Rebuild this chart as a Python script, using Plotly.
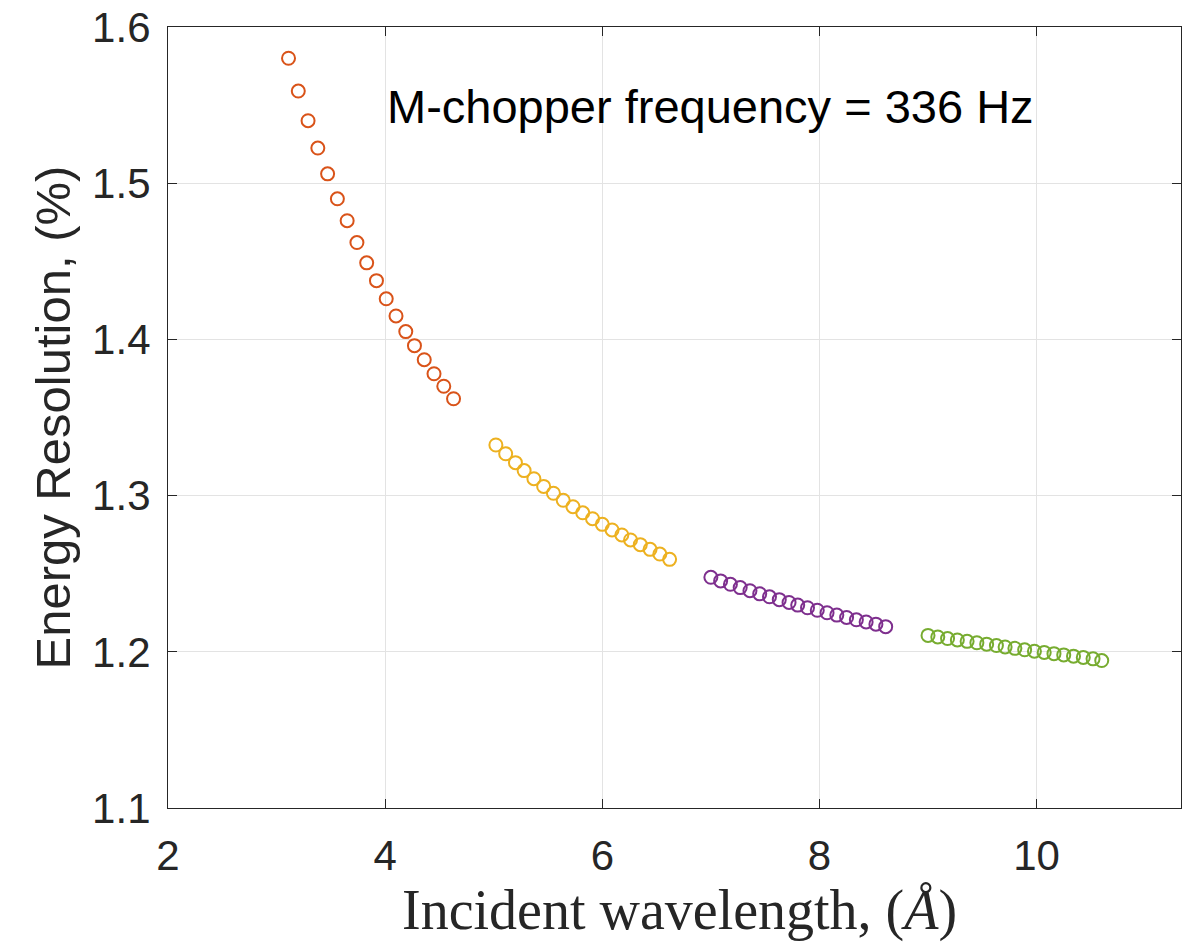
import plotly.graph_objects as go

# Incident wavelength (Å) and energy resolution (%) for four chopper settings
wl_1 = [3.11, 3.20, 3.29, 3.38, 3.47, 3.56, 3.65, 3.74, 3.83, 3.92, 4.01, 4.10, 4.19, 4.27, 4.36, 4.45, 4.54, 4.63]
res_1 = [1.580, 1.559, 1.540, 1.5225, 1.506, 1.490, 1.476, 1.462, 1.449, 1.4376, 1.426, 1.415, 1.405, 1.396, 1.387, 1.378, 1.370, 1.362]

wl_2 = [5.02, 5.11, 5.20, 5.28, 5.37, 5.46, 5.55, 5.64, 5.73, 5.82, 5.91, 6.00, 6.09, 6.18, 6.26, 6.35, 6.44, 6.53, 6.62]
res_2 = [1.3324, 1.3268, 1.3211, 1.3160, 1.3108, 1.3059, 1.3015, 1.2970, 1.2929, 1.2890, 1.2852, 1.2816, 1.2780, 1.2748, 1.2716, 1.2686, 1.2656, 1.2626, 1.2592]

wl_3 = [7.00, 7.09, 7.18, 7.27, 7.36, 7.45, 7.54, 7.63, 7.72, 7.80, 7.89, 7.98, 8.07, 8.16, 8.25, 8.34, 8.43, 8.52, 8.61]
res_3 = [1.2477, 1.2454, 1.2432, 1.2411, 1.2391, 1.2371, 1.2352, 1.2334, 1.2316, 1.2299, 1.2282, 1.2266, 1.2250, 1.2235, 1.2220, 1.2205, 1.2191, 1.2177, 1.2161]

wl_4 = [9.00, 9.09, 9.18, 9.27, 9.36, 9.45, 9.54, 9.63, 9.71, 9.80, 9.89, 9.98, 10.07, 10.16, 10.25, 10.34, 10.43, 10.52, 10.60]
res_4 = [1.2105, 1.2095, 1.2085, 1.2076, 1.2067, 1.2058, 1.2049, 1.2040, 1.2031, 1.2022, 1.2013, 1.2004, 1.1996, 1.1988, 1.1980, 1.1972, 1.1964, 1.1955, 1.1944]

colors = ["#D95319", "#EDB120", "#7E2F8E", "#77AC30"]

x_ticks = [2, 4, 6, 8, 10]
y_ticks = [1.1, 1.2, 1.3, 1.4, 1.5, 1.6]

fig = go.Figure()
for xs, ys, c in [(wl_1, res_1, colors[0]), (wl_2, res_2, colors[1]),
                  (wl_3, res_3, colors[2]), (wl_4, res_4, colors[3])]:
    fig.add_trace(go.Scatter(
        x=xs, y=ys, mode="markers",
        marker=dict(symbol="circle-open", size=13, color=c, line=dict(width=2, color=c)),
        showlegend=False,
    ))

axis_common = dict(
    showline=True, linecolor="#262626", linewidth=1.2, mirror="ticks",
    ticks="inside", ticklen=9, tickcolor="#262626", tickwidth=1,
    showgrid=True, gridcolor="#e3e3e3", gridwidth=1,
    zeroline=False,
    tickfont=dict(family="Liberation Sans, Arial, sans-serif", size=42, color="#262626"),
)

fig.update_layout(
    width=1183, height=942,
    margin=dict(l=168, r=2, t=27, b=134),
    plot_bgcolor="white", paper_bgcolor="white",
    xaxis=dict(range=[2, 11.33], tickvals=x_ticks, ticktext=[str(v) for v in x_ticks],
               ticklabelstandoff=10, **axis_common),
    yaxis=dict(range=[1.1, 1.6], tickvals=y_ticks, ticktext=[f"{v:.1f}" for v in y_ticks],
               ticklabelstandoff=8, **axis_common),
    annotations=[
        dict(text="M-chopper frequency = 336 Hz", x=4.0, y=1.549, xref="x", yref="y",
             xanchor="left", yanchor="middle", showarrow=False,
             font=dict(family="Liberation Sans, Arial, sans-serif", size=47, color="black")),
        dict(text="Energy Resolution, (%)", x=0, y=0.5, xref="paper", yref="paper",
             xshift=-116, textangle=-90, xanchor="center", yanchor="middle", showarrow=False,
             font=dict(family="Liberation Sans, Arial, sans-serif", size=49, color="#262626")),
        dict(text="Incident wavelength, (<i>Å</i>)", x=0.5, y=0, xref="paper", yref="paper",
             xshift=5, yshift=-102, xanchor="center", yanchor="middle", showarrow=False,
             font=dict(family="Liberation Serif, Times New Roman, serif", size=56, color="#262626")),
    ],
)

fig.write_html("out.html")
